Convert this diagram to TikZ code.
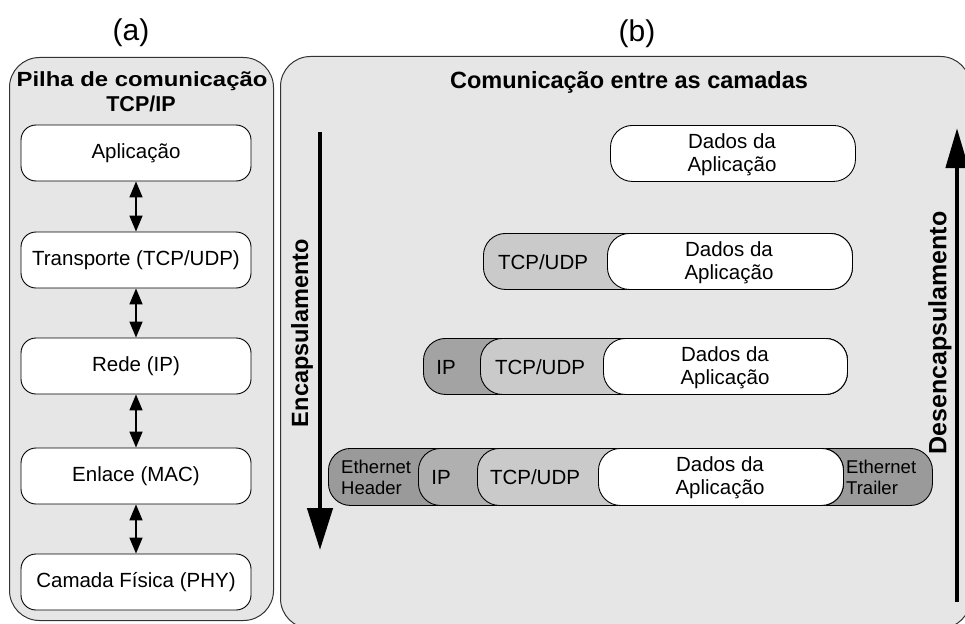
\documentclass[tikz,border=0pt]{standalone}
\usepackage{fontspec}
\setmainfont{Liberation Sans}
\usetikzlibrary{arrows.meta}
\definecolor{panelgray}{HTML}{E6E6E6}
\definecolor{ethgray}{HTML}{9A9A9A}
\definecolor{ipgray}{HTML}{B0B0B0}
\definecolor{ipgraydark}{HTML}{A3A3A3}
\definecolor{tcpgray}{HTML}{CACACA}
\definecolor{edgegray}{HTML}{333333}
\begin{document}
\begin{tikzpicture}[x=1pt,y=-1pt,
  panel/.style={draw=edgegray, line width=1pt, fill=panelgray, rounded corners=30pt, anchor=north west, inner sep=0pt},
  stackbox/.style={draw=black, line width=0.9pt, rounded corners=15pt, fill=white, minimum height=56pt, minimum width=230pt, inner sep=0pt, font=\fontsize{20.5}{23}\selectfont},
  seg/.style={draw=black, line width=0.9pt, rounded corners=22pt, inner sep=0pt, anchor=north west},
  lbl/.style={font=\fontsize{20.5}{23}\selectfont, inner sep=0pt, align=center},
  smalllbl/.style={font=\fontsize{18.5}{21}\selectfont, inner sep=0pt, align=left, anchor=west},
  biglbl/.style={font=\bfseries\fontsize{23.5}{26}\selectfont, inner sep=0pt},
  dblarrow/.style={line width=1.5pt, {Triangle[width=13pt,length=16pt]}-{Triangle[width=13pt,length=16pt]}},
  bigarrow/.style={line width=4.5pt, -{Triangle[width=25pt,length=42pt]}}
]
\useasboundingbox (0,0) rectangle (965,623);
\clip (0,0) rectangle (965,623);

% titles
\node[font=\fontsize{30}{32}\selectfont, inner sep=0pt] (ta) at (131,33) {(a)};
\node[font=\fontsize{30}{32}\selectfont, inner sep=0pt] (tb) at (637,34) {(b)};

% panels
\node[panel, minimum width=264pt, minimum height=563pt] (pa) at (9,57) {};
\node[panel, minimum width=690pt, minimum height=572pt] (pb) at (280,56) {};

% left panel title
\node[font=\bfseries\fontsize{20.5}{22}\selectfont, inner sep=0pt, anchor=base] (pat1) at (142,87) {\scalebox{1.165}[1]{Pilha de comunicação}};
\node[font=\bfseries\fontsize{21.5}{23}\selectfont, inner sep=0pt, anchor=base] (pat2) at (141,111) {TCP/IP};

% left stack
\node[stackbox] (app) at (136,153) {Aplicação};
\node[stackbox] (trans) at (136,260) {Transporte (TCP/UDP)};
\node[stackbox] (rede) at (136,366) {Rede (IP)};
\node[stackbox] (enl) at (136,476) {Enlace (MAC)};
\node[stackbox] (phy) at (136,582) {Camada Física (PHY)};

\draw[dblarrow] (app.south) -- (trans.north);
\draw[dblarrow] (trans.south) -- (rede.north);
\draw[dblarrow] (rede.south) -- (enl.north);
\draw[dblarrow] (enl.south) -- (phy.north);

% right panel title
\node[biglbl, anchor=base] (pbt) at (629,89) {Comunicação entre as camadas};

% row 1
\node[seg, fill=white, minimum width=245pt, minimum height=56pt] (r1d) at (610,125) {};
\node[lbl] (r1dt) at (732,155) {Dados da\\Aplicação};

% row 2
\node[seg, fill=tcpgray, minimum width=369pt, minimum height=56pt] (r2t) at (483,233) {};
\node[seg, fill=white, minimum width=245pt, minimum height=56pt] (r2d) at (607,233) {};
\node[lbl] (r2tt) at (543,262) {TCP/UDP};
\node[lbl] (r2dt) at (729,263) {Dados da\\Aplicação};

% row 3
\node[seg, fill=ipgraydark, minimum width=424pt, minimum height=56pt] (r3i) at (423,338) {};
\node[seg, fill=tcpgray, minimum width=367pt, minimum height=56pt] (r3t) at (480,338) {};
\node[seg, fill=white, minimum width=244pt, minimum height=56pt] (r3d) at (603,338) {};
\node[lbl] (r3it) at (446,367) {IP};
\node[lbl] (r3tt) at (540,367) {TCP/UDP};
\node[lbl] (r3dt) at (725,368) {Dados da\\Aplicação};

% row 4
\node[seg, fill=ethgray, minimum width=604pt, minimum height=57pt] (r4e) at (328,448) {};
\node[seg, fill=ipgray, minimum width=425pt, minimum height=57pt] (r4i) at (418,448) {};
\node[seg, fill=tcpgray, minimum width=366pt, minimum height=57pt] (r4t) at (477,448) {};
\node[seg, fill=white, minimum width=245pt, minimum height=57pt] (r4d) at (598,448) {};
\node[smalllbl] (r4et) at (341,477) {Ethernet\\Header};
\node[lbl] (r4it) at (441,477) {IP};
\node[lbl] (r4tt) at (535,477) {TCP/UDP};
\node[lbl] (r4dt) at (720,478) {Dados da\\Aplicação};
\node[smalllbl] (r4rt) at (846,477) {Ethernet\\Trailer};

% big arrows
\coordinate (encS) at (320,132);
\coordinate (encE) at (320,550);
\draw[bigarrow] (encS) -- (encE);
\node[biglbl, rotate=90] (encl) at (302,333) {Encapsulamento};

\coordinate (desS) at (957,602);
\coordinate (desE) at (957,128);
\draw[bigarrow, -{Triangle[width=22pt,length=40pt]}] (desS) -- (desE);
\node[biglbl, font=\bfseries\fontsize{25}{27}\selectfont, rotate=90] (desl) at (940,333) {Desencapsulamento};
\end{tikzpicture}
\end{document}
